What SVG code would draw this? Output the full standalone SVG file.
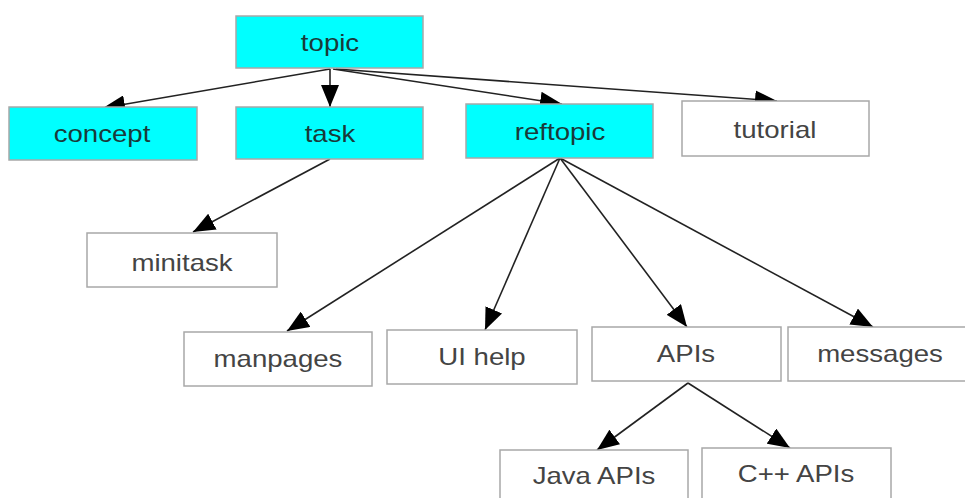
<svg xmlns="http://www.w3.org/2000/svg" width="965" height="498" viewBox="0 0 965 498">
<defs>
<style>
.n rect{stroke:#a8a8a8;stroke-width:1.5}
.hl rect{fill:#00ffff}
.pl rect{fill:#ffffff}
.n text{font-family:"Liberation Sans",Arial,sans-serif;font-size:23px;text-anchor:middle}
.hl text{fill:#1a3a3a}
.pl text{fill:#444444}
#edges line{stroke:#222;stroke-width:1.6;marker-end:url(#ah)}
</style>
<marker id="ah" markerUnits="userSpaceOnUse" markerWidth="24" markerHeight="18" refX="22" refY="9" orient="auto">
<path d="M0,0 L22,9 L0,18 Z" fill="#000"/>
</marker>
</defs>
<rect width="965" height="498" fill="#fff"/>
<g id="edges">
<line x1="330" y1="69" x2="103" y2="108"/>
<line x1="330" y1="69" x2="330" y2="107"/>
<line x1="333" y1="69" x2="562" y2="104"/>
<line x1="336" y1="69" x2="777" y2="101"/>
<line x1="330" y1="159" x2="193" y2="232"/>
<line x1="560" y1="158" x2="287" y2="331"/>
<line x1="560" y1="158" x2="485" y2="330"/>
<line x1="560" y1="158" x2="687" y2="327"/>
<line x1="560" y1="158" x2="873" y2="327"/>
<line x1="688" y1="383" x2="597" y2="450"/>
<line x1="688" y1="383" x2="790" y2="448"/>
</g>
<g id="topic" class="n hl"><rect x="236" y="16" width="187" height="52"/><text transform="translate(330,51) scale(1.2,1)">topic</text></g>
<g id="concept" class="n hl"><rect x="9" y="107" width="188" height="53"/><text transform="translate(102,142) scale(1.2,1)">concept</text></g>
<g id="task" class="n hl"><rect x="236" y="107" width="187" height="52"/><text transform="translate(330,142) scale(1.2,1)">task</text></g>
<g id="reftopic" class="n hl"><rect x="466" y="104" width="187" height="54"/><text transform="translate(560,140) scale(1.2,1)">reftopic</text></g>
<g id="tutorial" class="n pl"><rect x="682" y="101" width="187" height="55"/><text transform="translate(775,138) scale(1.2,1)">tutorial</text></g>
<g id="minitask" class="n pl"><rect x="87" y="233" width="190" height="54"/><text transform="translate(182,271) scale(1.2,1)">minitask</text></g>
<g id="manpages" class="n pl"><rect x="184" y="332" width="188" height="54"/><text transform="translate(278,367) scale(1.2,1)">manpages</text></g>
<g id="uihelp" class="n pl"><rect x="387" y="330" width="190" height="54"/><text transform="translate(482,365) scale(1.2,1)">UI help</text></g>
<g id="apis" class="n pl"><rect x="592" y="327" width="189" height="54"/><text transform="translate(686,362) scale(1.2,1)">APIs</text></g>
<g id="messages" class="n pl"><rect x="788" y="327" width="182" height="54"/><text transform="translate(880,362) scale(1.2,1)">messages</text></g>
<g id="javaapis" class="n pl"><rect x="500" y="450" width="188" height="54"/><text transform="translate(594,484) scale(1.2,1)">Java APIs</text></g>
<g id="cppapis" class="n pl"><rect x="702" y="448" width="189" height="56"/><text transform="translate(796,482) scale(1.2,1)">C++ APIs</text></g>
</svg>
